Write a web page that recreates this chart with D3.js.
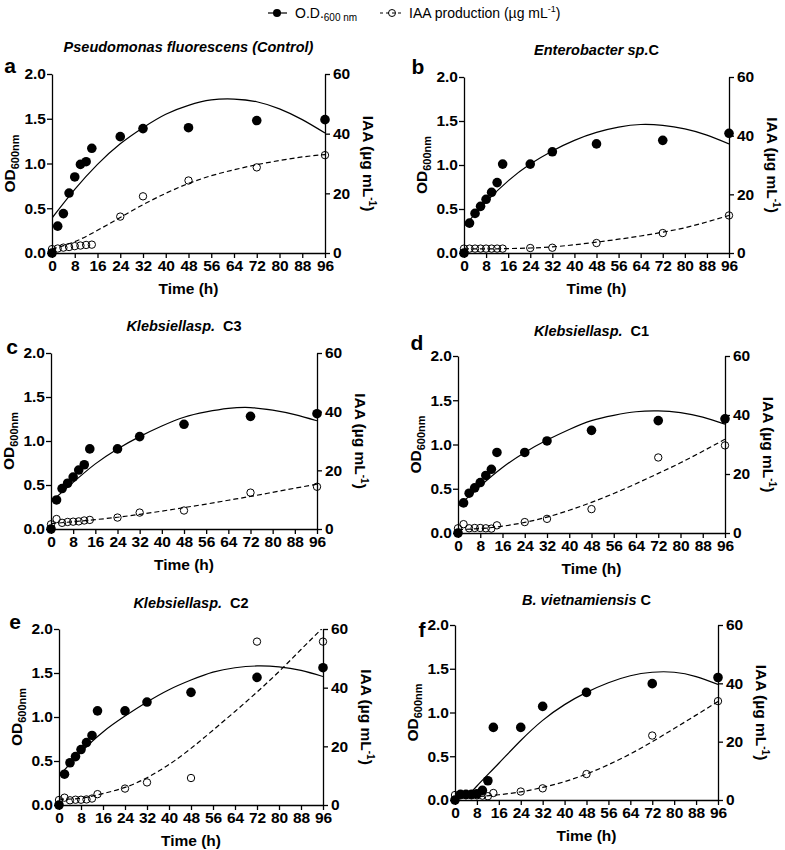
<!DOCTYPE html>
<html><head><meta charset="utf-8">
<script src="https://cdn.jsdelivr.net/npm/d3@7/dist/d3.min.js"></script>
<style>body{margin:0;background:#fff}</style>
</head><body><svg id="chart" width="785" height="850"></svg>
<script>
// ---------- data ----------
const time = [0, 2, 4, 6, 8, 10, 12, 14, 24, 32, 48, 72, 96];
const fitTime = [0, 8, 16, 24, 32, 40, 48, 56, 64, 72, 80, 88, 96];
const fitTimeLate = [4, 8, 16, 24, 32, 40, 48, 56, 64, 72, 80, 88, 96];
const xTicks = [0, 8, 16, 24, 32, 40, 48, 56, 64, 72, 80, 88, 96];
const odTicks = [0, 0.5, 1.0, 1.5, 2.0];
const iaaTicks = [0, 20, 40, 60];

const letters = ["a", "b", "c", "d", "e", "f"];
const titleItalic = ["Pseudomonas fluorescens (Control)", "Enterobacter sp.", "Klebsiellasp.", "Klebsiellasp.", "Klebsiellasp.", "B. vietnamiensis"];
const titlePlain = ["", "C", "  C3", "  C1", "  C2", " C"];

// a: Pseudomonas fluorescens
const odA = [0, 0.30, 0.44, 0.67, 0.85, 0.99, 1.02, 1.17, 1.30, 1.39, 1.40, 1.48, 1.49];
const iaaA = [1.3, 1.5, 1.8, 2.0, 2.3, 2.5, 2.7, 2.8, 12.2, 19.0, 24.3, 28.7, 32.8];
const odFitA = [0.39, 0.71, 0.99, 1.22, 1.40, 1.55, 1.65, 1.71, 1.72, 1.69, 1.61, 1.49, 1.34];
const iaaFitA = [1.3, 3.8, 7.6, 11.9, 16.2, 20.0, 23.3, 25.9, 27.9, 29.6, 31.0, 32.2, 33.0];
// b: Enterobacter sp. C
const odB = [0, 0.34, 0.45, 0.53, 0.61, 0.69, 0.80, 1.01, 1.01, 1.15, 1.24, 1.28, 1.36];
const iaaB = [1.5, 1.5, 1.5, 1.5, 1.5, 1.5, 1.5, 1.5, 1.7, 1.8, 3.4, 6.8, 12.8];
const odFitB = [0.30, 0.58, 0.82, 1.01, 1.16, 1.28, 1.37, 1.43, 1.46, 1.45, 1.41, 1.34, 1.24];
const iaaFitB = [1.4, 1.4, 1.5, 1.7, 2.1, 2.8, 3.7, 4.7, 5.8, 7.1, 8.6, 10.6, 12.8];
// c: Klebsiella sp. C3
const odC = [0, 0.33, 0.46, 0.52, 0.59, 0.67, 0.73, 0.91, 0.91, 1.05, 1.19, 1.28, 1.31];
const iaaC = [1.6, 3.4, 2.1, 2.4, 2.5, 2.6, 2.9, 3.1, 3.9, 5.6, 6.3, 12.4, 14.4];
const odFitC = [0.31, 0.53, 0.74, 0.91, 1.05, 1.17, 1.27, 1.33, 1.37, 1.38, 1.35, 1.30, 1.23];
const iaaFitC = [1.8, 2.5, 3.2, 4.0, 5.0, 6.1, 7.3, 8.5, 9.8, 11.1, 12.5, 13.9, 15.3];
// d: Klebsiella sp. C1
const odD = [0, 0.34, 0.45, 0.51, 0.57, 0.65, 0.72, 0.91, 0.91, 1.04, 1.16, 1.27, 1.29];
const iaaD = [1.6, 3.0, 1.6, 1.7, 1.7, 1.6, 1.5, 2.6, 3.7, 4.8, 8.1, 25.6, 29.7];
const odFitD = [0.30, 0.53, 0.74, 0.91, 1.05, 1.17, 1.27, 1.33, 1.37, 1.38, 1.36, 1.31, 1.23];
const iaaFitD = [1.2, 1.5, 2.3, 3.6, 5.4, 7.7, 10.4, 13.4, 16.7, 20.2, 23.8, 27.7, 31.8];
// e: Klebsiella sp. C2
const odE = [0, 0.35, 0.48, 0.55, 0.63, 0.71, 0.79, 1.07, 1.07, 1.17, 1.28, 1.45, 1.56];
const iaaE = [1.7, 2.5, 1.6, 1.8, 1.8, 1.9, 2.2, 3.7, 5.6, 7.7, 9.2, 55.7, 55.7];
const odFitE = [0.33, 0.60, 0.83, 1.01, 1.17, 1.31, 1.42, 1.51, 1.56, 1.58, 1.57, 1.53, 1.46];
const iaaFitE = [2.0, 2.3, 3.9, 6.0, 9.3, 13.8, 19.3, 25.5, 31.9, 38.5, 45.5, 53.0, 60.5];
// f: B. vietnamiensis C
const odF = [0, 0.065, 0.065, 0.065, 0.07, 0.11, 0.22, 0.83, 0.83, 1.07, 1.23, 1.33, 1.40];
const iaaF = [1.7, 1.6, 1.6, 1.6, 1.6, 1.5, 1.3, 2.4, 2.9, 4.0, 8.9, 22.1, 33.9];
const odFitF = [0.02, 0.16, 0.42, 0.68, 0.91, 1.09, 1.23, 1.34, 1.42, 1.46, 1.46, 1.41, 1.32];
const iaaFitF = [1.0, 1.2, 1.8, 2.8, 4.3, 6.3, 8.9, 12.1, 15.8, 20.0, 24.5, 29.1, 33.8];

// ---------- layout (pixel boxes) ----------
const layout = [
  {x0: 52, x1: 325, y0: 74, y1: 253, lx: 10, ly: 66, ty: 47},
  {x0: 464, x1: 729, y0: 77, y1: 253, lx: 418, ly: 67, ty: 50},
  {x0: 51, x1: 317, y0: 353, y1: 529, lx: 12, ly: 347, ty: 326},
  {x0: 458, x1: 725, y0: 356, y1: 533, lx: 417, ly: 343, ty: 331},
  {x0: 59, x1: 323, y0: 629, y1: 805, lx: 15, ly: 622, ty: 603},
  {x0: 455, x1: 718, y0: 625, y1: 800, lx: 422, ly: 630, ty: 600}
];

const panels = [
  {od: odA, iaa: iaaA, odFit: odFitA, odFitT: fitTime, iaaFit: iaaFitA},
  {od: odB, iaa: iaaB, odFit: odFitB, odFitT: fitTime, iaaFit: iaaFitB},
  {od: odC, iaa: iaaC, odFit: odFitC, odFitT: fitTime, iaaFit: iaaFitC},
  {od: odD, iaa: iaaD, odFit: odFitD, odFitT: fitTime, iaaFit: iaaFitD},
  {od: odE, iaa: iaaE, odFit: odFitE, odFitT: fitTime, iaaFit: iaaFitE},
  {od: odF, iaa: iaaF, odFit: odFitF, odFitT: fitTimeLate, iaaFit: iaaFitF}
];

const FONT = "'Liberation Sans', Arial, Helvetica, sans-serif";
const svg = d3.select("#chart").style("font-family", FONT);

// ---------- legend ----------
const leg = svg.append("g");
leg.append("line").attr("x1", 268).attr("x2", 287).attr("y1", 13).attr("y2", 13).attr("stroke", "#000").attr("stroke-width", 1.2);
leg.append("circle").attr("cx", 277).attr("cy", 13).attr("r", 4).attr("fill", "#000");
const t1 = leg.append("text").attr("x", 295).attr("y", 18).attr("font-size", 14).attr("fill", "#000");
t1.append("tspan").text("O.D.");
t1.append("tspan").attr("font-size", 10).attr("dy", 3).text("600 nm");
leg.append("line").attr("x1", 380).attr("x2", 404).attr("y1", 13).attr("y2", 13).attr("stroke", "#000").attr("stroke-width", 1.2).attr("stroke-dasharray", "3,3");
leg.append("circle").attr("cx", 392).attr("cy", 13).attr("r", 3.5).attr("fill", "none").attr("stroke", "#000").attr("stroke-width", 1);
const t2 = leg.append("text").attr("x", 409).attr("y", 18).attr("font-size", 14).attr("fill", "#000");
t2.append("tspan").text("IAA production (µg mL");
t2.append("tspan").attr("font-size", 9).attr("dy", -6).text("-1");
t2.append("tspan").attr("dy", 6).text(")");

// ---------- panels ----------
panels.forEach((p, i) => {
  const L = layout[i];
  const g = svg.append("g");
  const x = d3.scaleLinear().domain([0, 96]).range([L.x0, L.x1]);
  const yOD = d3.scaleLinear().domain([0, 2]).range([L.y1, L.y0]);
  const yIAA = d3.scaleLinear().domain([0, 60]).range([L.y1, L.y0]);

  const clipId = "clip" + i;
  svg.append("clipPath").attr("id", clipId).append("rect")
    .attr("x", L.x0).attr("y", L.y0).attr("width", L.x1 - L.x0).attr("height", L.y1 - L.y0 + 2);

  // axes
  const styleAxis = (sel) => {
    sel.selectAll("path.domain").attr("stroke", "#000").attr("stroke-width", 1.3);
    sel.selectAll(".tick line").attr("stroke", "#000").attr("stroke-width", 1.3);
    sel.selectAll(".tick text").attr("font-size", 15.5).attr("font-weight", "bold").attr("fill", "#000").attr("font-family", FONT);
  };
  g.append("g").attr("transform", `translate(0,${L.y1})`)
    .call(d3.axisBottom(x).tickValues(xTicks).tickSize(5).tickSizeOuter(0).tickPadding(2))
    .call(styleAxis);
  g.append("g").attr("transform", `translate(${L.x0},0)`)
    .call(d3.axisLeft(yOD).tickValues(odTicks).tickFormat(d3.format(".1f")).tickSize(5).tickSizeOuter(0).tickPadding(1))
    .call(styleAxis);
  g.append("g").attr("transform", `translate(${L.x1},0)`)
    .call(d3.axisRight(yIAA).tickValues(iaaTicks).tickSize(5).tickSizeOuter(0).tickPadding(3))
    .call(styleAxis);

  // curves
  const odLine = d3.line().x((d, j) => x(p.odFitT[j])).y(d => yOD(d)).curve(d3.curveNatural);
  const iaaLine = d3.line().x((d, j) => x(fitTime[j])).y(d => yIAA(d)).curve(d3.curveNatural);
  g.append("path").attr("d", iaaLine(p.iaaFit)).attr("fill", "none").attr("stroke", "#000")
    .attr("stroke-width", 1.2).attr("stroke-dasharray", "5,3").attr("clip-path", `url(#${clipId})`);
  g.append("path").attr("d", odLine(p.odFit)).attr("fill", "none").attr("stroke", "#000")
    .attr("stroke-width", 1.2).attr("clip-path", `url(#${clipId})`);

  // points
  g.append("g").selectAll("circle").data(p.iaa).join("circle")
    .attr("cx", (d, j) => x(time[j])).attr("cy", d => yIAA(d)).attr("r", 3.7)
    .attr("fill", "none").attr("stroke", "#000").attr("stroke-width", 1);
  g.append("g").selectAll("circle").data(p.od).join("circle")
    .attr("cx", (d, j) => x(time[j])).attr("cy", d => yOD(d)).attr("r", 4.8)
    .attr("fill", "#000");

  // axis titles
  const xc = (L.x0 + L.x1) / 2, yc = (L.y0 + L.y1) / 2;
  g.append("text").attr("x", xc).attr("y", L.y1 + 41).attr("text-anchor", "middle")
    .attr("font-size", 15.5).attr("font-weight", "bold").attr("fill", "#000").text("Time (h)");

  const odT = g.append("text").attr("transform", `translate(${L.x0 - 37},${yc}) rotate(-90)`)
    .attr("text-anchor", "middle").attr("font-size", 15.5).attr("font-weight", "bold").attr("fill", "#000");
  odT.append("tspan").text("OD");
  odT.append("tspan").attr("font-size", 11).attr("dy", 4).text("600nm");

  const iaT = g.append("text").attr("transform", `translate(${L.x1 + 38},${yc}) rotate(90)`)
    .attr("text-anchor", "middle").attr("font-size", 15.5).attr("font-weight", "bold").attr("fill", "#000");
  iaT.append("tspan").text("IAA (µg mL");
  iaT.append("tspan").attr("font-size", 10).attr("dy", -6).text("-1");
  iaT.append("tspan").attr("dy", 6).text(")");

  // title
  const tt = g.append("text").attr("x", xc).attr("y", L.ty + 5).attr("text-anchor", "middle")
    .attr("font-size", 14.5).attr("font-weight", "bold").attr("fill", "#000")
    .attr("xml:space", "preserve").style("white-space", "pre");
  tt.append("tspan").attr("font-style", "italic").text(titleItalic[i]);
  if (titlePlain[i]) tt.append("tspan").text(titlePlain[i]);

  // panel letter
  g.append("text").attr("x", L.lx).attr("y", L.ly + 7).attr("text-anchor", "middle")
    .attr("font-size", 21).attr("font-weight", "bold").attr("fill", "#000").text(letters[i]);
});
</script>
</body></html>
